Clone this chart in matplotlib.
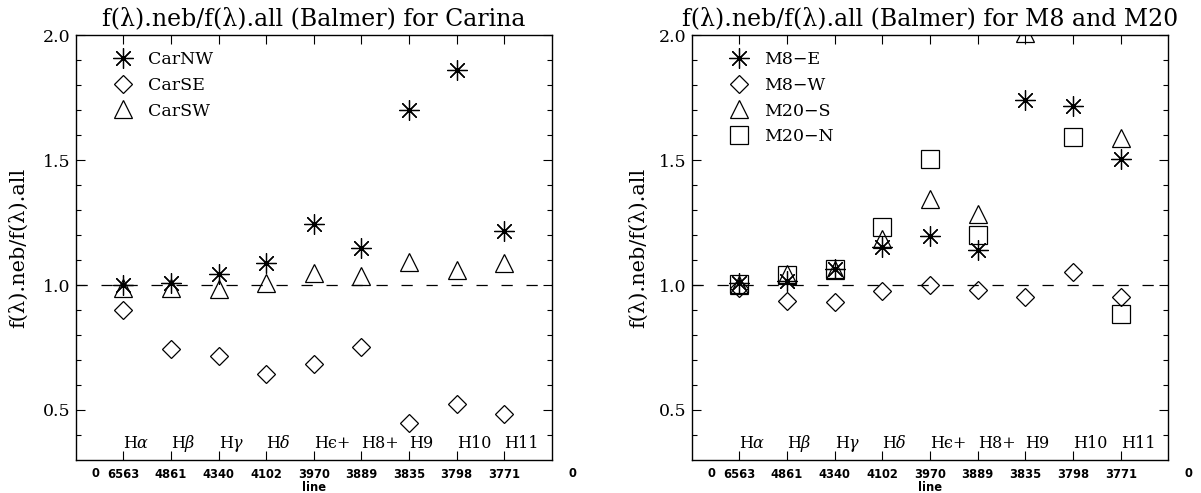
import numpy as np
import matplotlib.pyplot as plt
from matplotlib.lines import Line2D
from matplotlib.transforms import ScaledTranslation

plt.rcParams.update({
    "font.family": "DejaVu Serif",
    "mathtext.fontset": "dejavuserif",
    "font.size": 11,
})

# line wavelengths and names, one x slot each (1..9)
wavelengths = ["6563", "4861", "4340", "4102", "3970", "3889", "3835", "3798", "3771"]
line_names = [r"H$\alpha$", r"H$\beta$", r"H$\gamma$", r"H$\delta$", "H\u03f5+",
              "H8+", "H9", "H10", "H11"]

# Carina
car_nw = [1.00, 1.01, 1.045, 1.09, 1.245, 1.15, 1.70, 1.86, 1.215]
car_se = [0.90, 0.743, 0.716, 0.643, 0.684, 0.753, 0.447, 0.523, 0.484]
car_sw = [0.99, 0.99, 0.985, 1.01, 1.05, 1.037, 1.092, 1.059, 1.087]

# M8 and M20
m8_e = [1.01, 1.015, 1.063, 1.153, 1.197, 1.14, 1.74, 1.716, 1.503]
m8_w = [0.99, 0.936, 0.933, 0.975, 1.0, 0.98, 0.953, 1.051, 0.951]
m20_s = [1.0, 1.045, 1.06, 1.183, 1.344, 1.286, 2.01, np.nan, 1.59]
m20_n = [1.003, 1.04, 1.065, 1.231, 1.504, 1.2, np.nan, 1.591, 0.883]

star = (8, 2, 0)
styles = {
    "star": dict(marker=star, ms=14.5),
    "diamond": dict(marker="D", ms=9.3),
    "triangle": dict(marker="^", ms=13.5),
    "square": dict(marker="s", ms=13.5),
}

W, H = 1201, 493
fig = plt.figure(figsize=(W / 100, H / 100), dpi=100)
ax1 = fig.add_axes([75.7 / W, 33 / H, 476.3 / W, 425 / H])
ax2 = fig.add_axes([691.7 / W, 33 / H, 476.7 / W, 425 / H])

panels = [
    (ax1, "f(λ).neb/f(λ).all (Balmer) for Carina",
     [("CarNW", car_nw, "star"), ("CarSE", car_se, "diamond"), ("CarSW", car_sw, "triangle")], -0.100),
    (ax2, "f(λ).neb/f(λ).all (Balmer) for M8 and M20",
     [("M8−E", m8_e, "star"), ("M8−W", m8_w, "diamond"),
      ("M20−S", m20_s, "triangle"), ("M20−N", m20_n, "square")], -0.092),
]

x = np.arange(1, 10)

for ax, title, series, ylab_x in panels:
    ax.axhline(1.0, color="black", lw=0.9, dashes=(9, 11))
    handles = []
    for name, vals, kind in series:
        ax.plot(x, vals, ls="none", mfc="none", mec="black", mew=0.9, **styles[kind])
        handles.append(Line2D([], [], ls="none", mfc="none", mec="black", mew=0.9,
                              label=name, **styles[kind]))

    ax.set_xlim(0, 10)
    ax.set_ylim(0.3, 2.0)
    ax.set_title(title, fontsize=17, pad=7)

    # line names along the bottom
    for xi, nm in zip(x, line_names):
        ax.text(xi, 0.364, nm, ha="left", va="center", fontsize=11.5)

    ax.set_xticks(x)
    ax.set_xticklabels(wavelengths, fontfamily="DejaVu Sans", fontweight="bold", fontsize=8.3)
    shift = ScaledTranslation(8 / 100, 0, fig.dpi_scale_trans)
    for lab in ax.get_xticklabels():
        lab.set_transform(lab.get_transform() + shift)
    for xe in (0, 10):
        ax.text(xe, -0.031, "0", transform=ax.get_xaxis_transform() + ScaledTranslation(20 / 100, 0, fig.dpi_scale_trans),
                ha="center", va="center", fontfamily="DejaVu Sans", fontweight="bold", fontsize=8.3)

    ax.set_yticks([0.5, 1.0, 1.5, 2.0])
    ax.set_yticklabels(["0.5", "1.0", "1.5", "2.0"], fontsize=12.5)
    ax.set_yticks(np.arange(0.4, 2.0, 0.1), minor=True)
    ax.tick_params(which="both", direction="in", top=True, right=True, width=0.8)
    ax.tick_params(which="major", length=6.5, pad=4)
    ax.tick_params(axis="x", which="major", pad=5.5)
    ax.tick_params(which="minor", length=3.3)
    ax.tick_params(axis="x", which="minor", top=False, bottom=False)

    ax.set_xlabel("line", fontfamily="DejaVu Sans", fontweight="bold", fontsize=8.3)
    ax.xaxis.set_label_coords(0.5, -0.05)
    ax.set_ylabel("f(λ).neb/f(λ).all", fontsize=15)
    ax.yaxis.set_label_coords(ylab_x, 0.5)

    for sp in ax.spines.values():
        sp.set_linewidth(1.0)

    ax.legend(handles=handles, loc="upper left", bbox_to_anchor=(0.082, 0.962),
              frameon=False, fontsize=12.5, handlelength=1.0, handletextpad=0.9,
              labelspacing=0.5, borderpad=0, borderaxespad=0)

fig.savefig("out.png", dpi=100)
